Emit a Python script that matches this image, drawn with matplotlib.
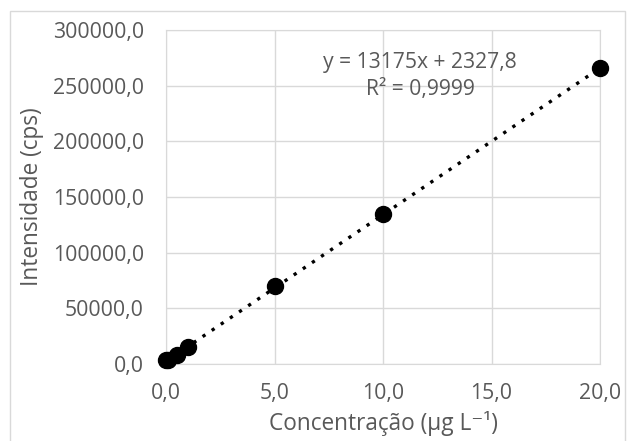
import matplotlib
matplotlib.use("Agg")
import matplotlib.pyplot as plt
from matplotlib.ticker import FuncFormatter, MultipleLocator
from matplotlib.patches import Rectangle
import numpy as np

conc = [0.0, 0.1, 0.5, 1.0, 5.0, 10.0, 20.0]
intensity = [3000, 3800, 8100, 15500, 70300, 134400, 266000]
slope = 13175
intercept = 2327.8
eq_text = "y = 13175x + 2327,8"
r2_text = "R² = 0,9999"
xlabel = "Concentração (µg L⁻¹)"
ylabel = "Intensidade (cps)"

plt.rcParams['font.family'] = ['Open Sans', 'DejaVu Sans']
txt = '#595959'
grid = '#d9d9d9'

fig = plt.figure(figsize=(6.27, 4.41), dpi=100)
fig.patches.append(Rectangle((0.016, -0.1), 0.981, 1.075, transform=fig.transFigure,
                             fill=False, edgecolor=grid, linewidth=1))
ax = fig.add_axes([0.265, 0.175, 0.692, 0.757])

xs = np.array([0, 20])
ax.plot(xs, slope * xs + intercept, linestyle=(0, (1, 2.3)), color='black', linewidth=2.4, zorder=2)
ax.plot(conc, intensity, 'o', color='black', markersize=11.5, zorder=3, clip_on=False)

ax.set_xlim(0, 20)
ax.set_ylim(0, 300000)
ax.xaxis.set_major_locator(MultipleLocator(5))
ax.yaxis.set_major_locator(MultipleLocator(50000))
fmt = FuncFormatter(lambda v, p: f"{v:.1f}".replace('.', ','))
ax.xaxis.set_major_formatter(fmt)
ax.yaxis.set_major_formatter(fmt)
ax.grid(True, color=grid, linewidth=1)
ax.set_axisbelow(True)
for s in ax.spines.values():
    s.set_color(grid)
ax.tick_params(length=0, labelsize=15.3, colors=txt)
ax.tick_params(axis='y', pad=16)
ax.tick_params(axis='x', pad=14)
ax.set_xlabel(xlabel, fontsize=16.3, color=txt, labelpad=5)
ax.set_ylabel(ylabel, fontsize=16.3, color=txt, labelpad=6)

ax.text(11.7, 270400, eq_text, ha='center', va='center', fontsize=15.2, color=txt)
ax.text(11.7, 246100, r2_text, ha='center', va='center', fontsize=15.2, color=txt)

fig.savefig('out.png', dpi=100)
